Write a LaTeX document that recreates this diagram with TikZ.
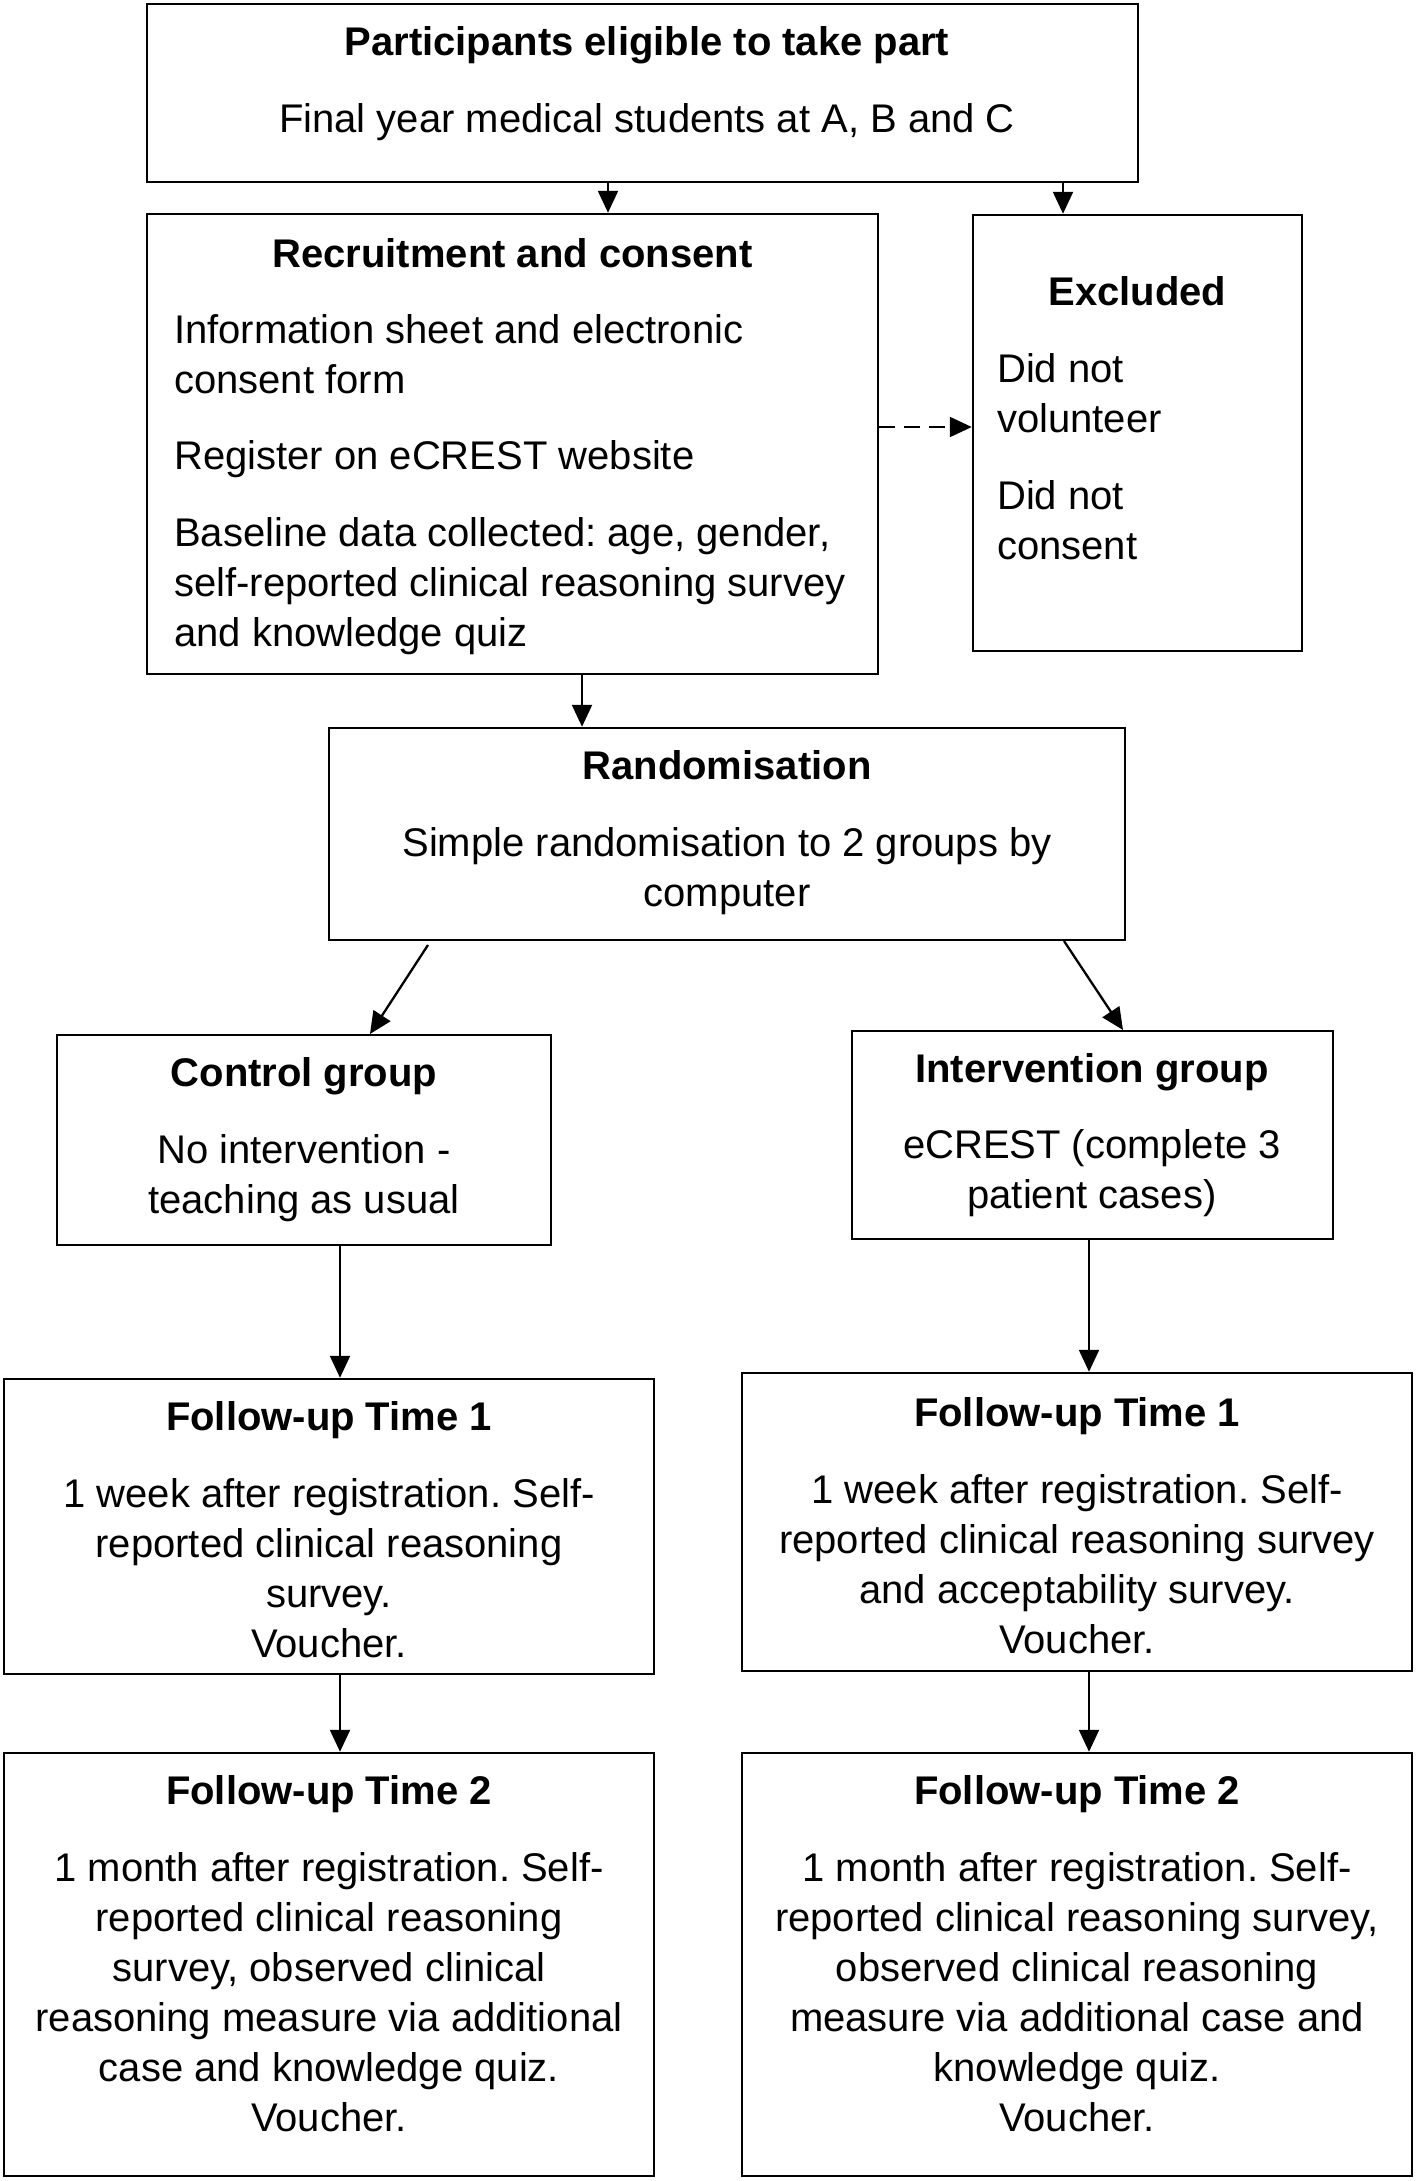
\documentclass[tikz,border=0pt]{standalone}
\usepackage{fontspec}
\setmainfont{Liberation Sans}
\usetikzlibrary{arrows.meta}
\newcommand\firstrule{\rule{0pt}{30pt}}
\frenchspacing
\begin{document}
\begin{tikzpicture}[x=1pt,y=-1pt,
  boxnode/.style={draw=black, line width=2.5pt, rectangle, inner sep=0pt, fill=white},
  txt/.style={inner sep=0pt, font=\frenchspacing\fontsize{40}{50}\selectfont, text=black},
  ctxt/.style={txt, align=center, anchor=north},
  ltxt/.style={txt, align=left, anchor=north west},
  arr/.style={line width=2.3pt, -{Triangle[length=22pt,width=20pt]}},
  dasharr/.style={arr, dash pattern=on 16pt off 9pt}]
\useasboundingbox[fill=white] (0,0) rectangle (1418,2181);

% boxes
\node[boxnode, minimum width=991pt, minimum height=178pt] (bT) at (642.5,93) {};
\node[boxnode, minimum width=731pt, minimum height=460pt] (bR) at (512.5,444) {};
\node[boxnode, minimum width=329pt, minimum height=436pt] (bE) at (1137.5,433) {};
\node[boxnode, minimum width=796pt, minimum height=212pt] (bRand) at (727,834) {};
\node[boxnode, minimum width=494pt, minimum height=210pt] (bC) at (304,1140) {};
\node[boxnode, minimum width=481pt, minimum height=208pt] (bI) at (1092.5,1135) {};
\node[boxnode, minimum width=650pt, minimum height=295pt] (bF1L) at (329,1526.5) {};
\node[boxnode, minimum width=670pt, minimum height=298pt] (bF1R) at (1077,1522) {};
\node[boxnode, minimum width=650pt, minimum height=423pt] (bF2L) at (329,1964.5) {};
\node[boxnode, minimum width=670pt, minimum height=423pt] (bF2R) at (1077,1964.5) {};

% texts
\node[ctxt] (tT) at (647,25.3) {\firstrule\textbf{Participants eligible to take part}\\[26.5pt]Final year medical students at A, B and C};
\node[ctxt] (tRh) at (512.5,236.8) {\firstrule\textbf{Recruitment and consent}};
\node[ltxt] (tRb) at (174,312.8) {\firstrule Information sheet and electronic\\consent form\\[26.5pt]Register on eCREST website\\[26.5pt]Baseline data collected: age, gender,\\self-reported clinical reasoning survey\\and knowledge quiz};
\node[ctxt] (tEh) at (1137.5,275.7) {\firstrule\textbf{Excluded}};
\node[ltxt] (tEb) at (997,352.3) {\firstrule Did not\\volunteer\\[26.5pt]Did not\\consent};
\node[ctxt] (tRand) at (727,748.9) {\firstrule\textbf{Randomisation}\\[27pt]Simple randomisation to 2 groups by\\computer};
\node[ctxt] (tC) at (304,1056.4) {\firstrule\textbf{Control group}\\[26.5pt]No intervention -\\teaching as usual};
\node[ctxt] (tI) at (1092,1052.2) {\firstrule\textbf{Intervention group}\\[26.5pt]eCREST (complete 3\\patient cases)};
\node[ctxt] (tF1L) at (329,1400.1) {\firstrule\textbf{Follow-up Time 1}\\[27.5pt]1 week after registration. Self-\\reported clinical reasoning\\survey.\\Voucher.};
\node[ctxt] (tF1R) at (1077,1396) {\firstrule\textbf{Follow-up Time 1}\\[27.5pt]1 week after registration. Self-\\reported clinical reasoning survey\\and acceptability survey.\\Voucher.};
\node[ctxt] (tF2L) at (329,1774.5) {\firstrule\textbf{Follow-up Time 2}\\[26.5pt]1 month after registration. Self-\\reported clinical reasoning\\survey, observed clinical\\reasoning measure via additional\\case and knowledge quiz.\\Voucher.};
\node[ctxt] (tF2R) at (1077,1774.5) {\firstrule\textbf{Follow-up Time 2}\\[26.5pt]1 month after registration. Self-\\reported clinical reasoning survey,\\observed clinical reasoning\\measure via additional case and\\knowledge quiz.\\Voucher.};

% helper coordinates
\coordinate (xa) at (608,0);
\coordinate (xb) at (1063,0);
\coordinate (xc) at (582,0);
\coordinate (xl) at (340,0);
\coordinate (xr) at (1089,0);
\coordinate (yd) at (0,427);
\coordinate (d1s) at (428,945);
\coordinate (d1e) at (370,1034);
\coordinate (d2s) at (1064,941);
\coordinate (d2e) at (1123,1030);

% connectors
\draw[arr] (xa |- bT.south) -- (xa |- bR.north);
\draw[arr] (xb |- bT.south) -- (xb |- bE.north);
\draw[dasharr] (bR.east |- yd) -- (bE.west |- yd);
\draw[arr] (xc |- bR.south) -- (xc |- bRand.north);
\draw[arr] (d1s) -- (d1e);
\draw[arr] (d2s) -- (d2e);
\draw[arr] (xl |- bC.south) -- (xl |- bF1L.north);
\draw[arr] (xr |- bI.south) -- (xr |- bF1R.north);
\draw[arr] (xl |- bF1L.south) -- (xl |- bF2L.north);
\draw[arr] (xr |- bF1R.south) -- (xr |- bF2R.north);
\end{tikzpicture}
\end{document}
